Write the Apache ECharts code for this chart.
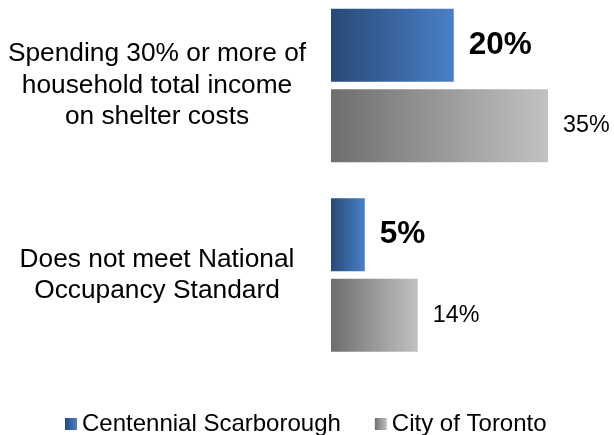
<!DOCTYPE html>
<html>
<head>
<meta charset="utf-8">
<script src="https://cdn.jsdelivr.net/npm/echarts@6/dist/echarts.min.js"></script>
<style>html,body{margin:0;padding:0;background:#fff}#c{width:614px;height:435px}</style>
</head>
<body>
<div id="c"></div>
<script>
var categories = ["Spending 30% or more of\nhousehold total income\non shelter costs", "Does not meet National\nOccupancy Standard"];
var seriesNames = ["Centennial Scarborough", "City of Toronto"];
var centennial = [19.8, 5.45];
var toronto = [35.0, 14.0];

var chart = echarts.init(document.getElementById('c'));
var blueGrad = new echarts.graphic.LinearGradient(0, 0, 1, 0, [{offset: 0, color: '#284977'}, {offset: 1, color: '#4a80c8'}]);
var greyGrad = new echarts.graphic.LinearGradient(0, 0, 1, 0, [{offset: 0, color: '#6e6e6e'}, {offset: 1, color: '#c2c2c2'}]);
var fontFam = 'Liberation Sans, Arial, sans-serif';
chart.setOption({
  animation: false,
  legend: {
    top: 407,
    left: 60,
    itemWidth: 12,
    itemHeight: 12,
    itemGap: 34,
    icon: 'rect',
    textStyle: {fontSize: 24, color: '#000', fontFamily: fontFam},
    data: seriesNames
  },
  grid: {left: 331, right: 35, top: 85.5, height: 189.5, containLabel: false},
  xAxis: {type: 'value', min: 0, max: 40, show: false},
  yAxis: {
    type: 'category',
    inverse: true,
    boundaryGap: false,
    data: categories,
    axisLine: {show: false},
    axisTick: {show: false},
    splitLine: {show: false},
    axisLabel: {
      align: 'center',
      margin: 174,
      fontSize: 26.3,
      lineHeight: 31.5,
      padding: [4, 0, 0, 0],
      color: '#000',
      fontFamily: fontFam
    }
  },
  series: [
    {
      name: seriesNames[0],
      type: 'bar',
      clip: false,
      data: centennial,
      barCategoryGap: '19%',
      barGap: '10%',
      itemStyle: {color: blueGrad},
      label: {
        show: true, position: 'right', distance: 15,
        fontSize: 31.5, fontWeight: 'bold', color: '#000', fontFamily: fontFam,
        formatter: function (p) { return Math.round(p.value) + '%'; }
      }
    },
    {
      name: seriesNames[1],
      type: 'bar',
      clip: false,
      data: toronto,
      barCategoryGap: '19%',
      barGap: '10%',
      itemStyle: {color: greyGrad},
      label: {
        show: true, position: 'right', distance: 15,
        fontSize: 23.3, color: '#000', fontFamily: fontFam,
        formatter: function (p) { return Math.round(p.value) + '%'; }
      }
    }
  ]
});
</script>
</body>
</html>
